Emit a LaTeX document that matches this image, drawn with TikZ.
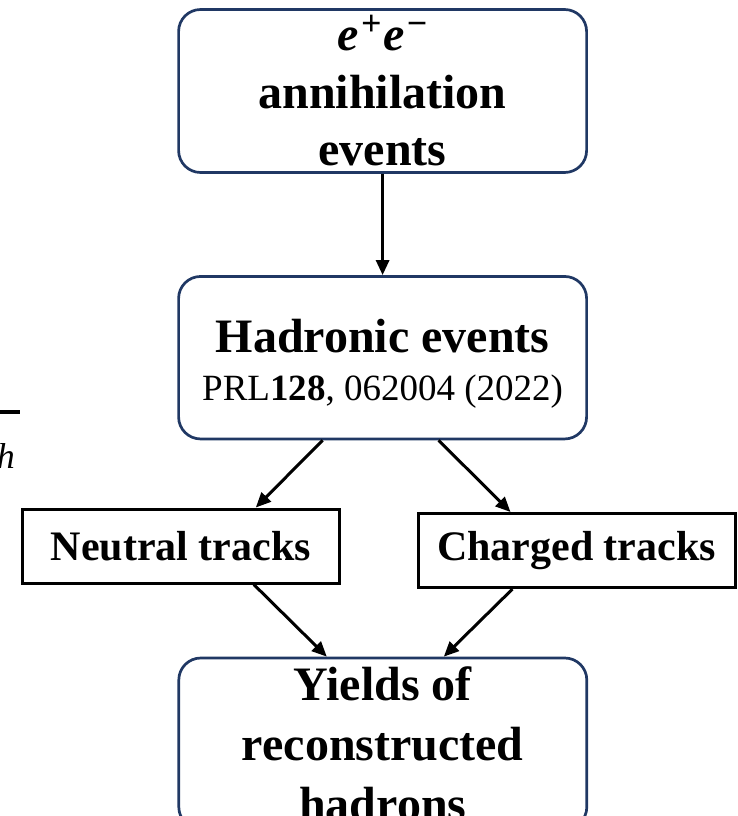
\documentclass[tikz,border=0pt]{standalone}
\usepackage{fontspec}
\setmainfont{Liberation Serif}
\usetikzlibrary{arrows.meta}
\definecolor{boxblue}{HTML}{203864}

\begin{document}
\begin{tikzpicture}[x=1pt,y=-1pt,
  rbox/.style={draw=boxblue,line width=2.7pt,rounded corners=22pt,fill=white,
    minimum width=408pt,inner sep=0pt,align=center,
    font=\fontsize{48}{57.5}\selectfont\bfseries},
  tbox/.style={draw,line width=3pt,minimum width=317pt,minimum height=74pt,
    inner sep=0pt,font=\fontsize{42}{50}\selectfont\bfseries},
  arr/.style={line width=3pt,-{Triangle[length=15pt,width=13pt]}}]
  \useasboundingbox (0,0) rectangle (737,816);
  \node[rbox,minimum height=163pt] (ann) at (382.6,91)
    {\textit{e}\kern2pt\raisebox{15pt}{\fontsize{36}{36}\selectfont +}\kern2pt\textit{e}\kern2pt\raisebox{15pt}{\fontsize{36}{36}\selectfont −}\\annihilation\\events};
  \node[rbox,minimum height=162.5pt] (had) at (382.6,357.7)
    {\rule{0pt}{45pt}Hadronic events\\[-10pt]{\fontsize{37}{47}\selectfont\mdseries PRL\textbf{128}, 062004 (2022)}};
  \node[tbox] (neu) at (180.8,546) {Neutral tracks};
  \node[tbox] (chg) at (576.5,550.5) {Charged tracks};
  \node[rbox,minimum height=171pt,font=\fontsize{48}{60}\selectfont\bfseries] (yld) at (382.8,743.5)
    {Yields of\\reconstructed\\hadrons};
  \draw[arr] (ann) -- (had);
  \draw[arr] ([xshift=-60pt]had.south) -- ([xshift=75pt]neu.north);
  \draw[arr] ([xshift=56pt]had.south) -- ([xshift=-66pt]chg.north);
  \draw[arr] ([xshift=73pt]neu.south) -- ([xshift=-56pt]yld.north);
  \draw[arr] ([xshift=-64pt]chg.south) -- ([xshift=61pt]yld.north);
  \draw[line width=4pt] (0,412) -- (20,412);
  \node[anchor=base east,inner sep=0pt,font=\fontsize{36}{36}\selectfont\itshape] (hcut) at (15,468) {h};
\end{tikzpicture}
\end{document}
